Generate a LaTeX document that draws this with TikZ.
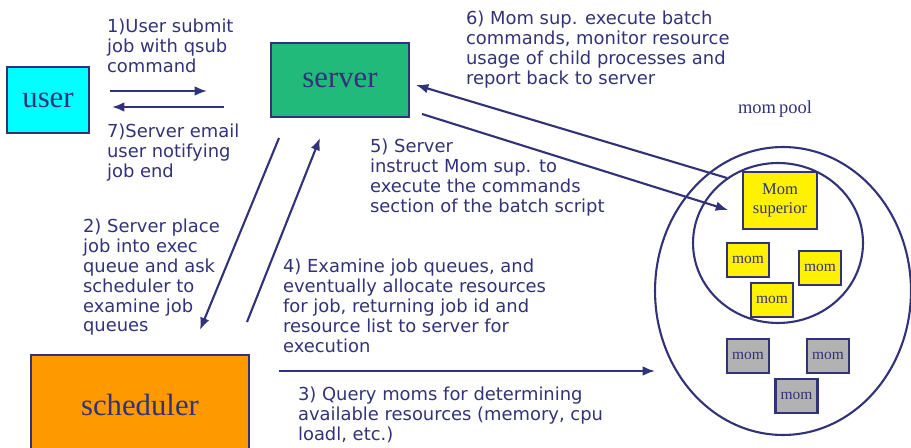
\documentclass[tikz,border=0pt]{standalone}
\usepackage{fontspec}
\setmainfont{Liberation Serif}
\newfontfamily\verd{DejaVu Sans}
\usepackage{tikz}
\usetikzlibrary{arrows.meta}
\usetikzlibrary{shapes.geometric}
\definecolor{ink}{RGB}{50,50,120}
\definecolor{usercyan}{RGB}{0,255,255}
\definecolor{srvgreen}{RGB}{33,186,122}
\definecolor{schorange}{RGB}{255,153,0}
\tikzstyle{box}=[draw=ink,text=ink,inner sep=0pt]
\tikzstyle{mombox}=[box,fill=yellow,minimum width=0.84cm,minimum height=0.68cm,font=\fontsize{8.8}{10}\selectfont]
\tikzstyle{idlebox}=[mombox,fill=black!30]
\tikzstyle{note}=[anchor=north west,inner sep=0pt,align=left,text=ink,font=\verd\fontsize{10.2}{11.3}\selectfont]
\tikzstyle{flow}=[draw=ink,-{Latex[length=7pt,width=5.5pt]}]

\begin{document}
\begin{tikzpicture}[very thick,x=0.02cm,y=-0.02cm]
\clip (0,0) rectangle (911,448);
\node [box,fill=usercyan,minimum width=1.64cm,minimum height=1.32cm,font=\fontsize{17.5}{20}\selectfont] (user) at (48,100) {user};
\node [box,fill=srvgreen,minimum width=2.76cm,minimum height=1.48cm,font=\fontsize{17.5}{20}\selectfont] (server) at (340,80) {server};
\node [box,fill=schorange,minimum width=4.36cm,minimum height=2cm,font=\fontsize{17.5}{20}\selectfont] (sched) at (140,405) {scheduler};

\node [draw=ink,ellipse,minimum width=5.12cm,minimum height=5.76cm,inner sep=0pt] (pool) at (783,291) {};
\node [draw=ink,ellipse,minimum width=3.4cm,minimum height=3.2cm,inner sep=0pt] (busy) at (778,243) {};
\node [text=ink,font=\fontsize{10.5}{12}\selectfont] (poolname) at (775,109) {mom\,pool};

\node [box,fill=yellow,minimum width=1.48cm,minimum height=1.14cm,align=center,font=\fontsize{9.4}{11}\selectfont] (sup) at (780,200.5) {Mom\\superior};
\node [mombox] (m1) at (748,260) {mom};
\node [mombox] (m2) at (820,268) {mom};
\node [mombox] (m3) at (772,300) {mom};
\node [idlebox] (m4) at (748,356) {mom};
\node [idlebox] (m5) at (828,356) {mom};
\node [idlebox] (m6) at (796.5,396) {mom};

\coordinate (s1) at (110,91);  \coordinate (e1) at (207,91);
\coordinate (s7) at (224,107); \coordinate (e7) at (112,107);
\coordinate (s2) at (279,138); \coordinate (e2) at (200,330);
\coordinate (s4) at (247,322); \coordinate (e4) at (320,138);
\coordinate (s3) at (279,371); \coordinate (e3) at (655,371);
\coordinate (s6) at (727,178); \coordinate (e6) at (416,85);
\coordinate (s5) at (422,114); \coordinate (e5) at (728,210);
\draw [flow] (s1) -- (e1);
\draw [flow] (s7) -- (e7);
\draw [flow] (s2) -- (e2);
\draw [flow] (s4) -- (e4);
\draw [flow] (s3) -- (e3);
\draw [flow] (s6) -- (e6);
\draw [flow] (s5) -- (e5);

\node [note] (t1) at (106,18) {1)User submit\\job with qsub\\command};
\node [note] (t7) at (106,123) {7)Server email\\user notifying\\job end};
\node [note] (t2) at (82,218) {2) Server place\\job into exec\\queue and ask\\scheduler to\\examine job\\queues};
\node [note] (t4) at (282,258) {4) Examine job queues, and\\eventually allocate resources\\for job, returning job id and\\resource list to server for\\execution};
\node [note] (t3) at (297,386) {3) Query moms for determining\\available resources (memory, cpu\\loadl, etc.)};
\node [note] (t5) at (369,138) {5) Server\\instruct Mom sup. to\\execute the commands\\section of the batch script};
\node [note] (t6) at (465,10) {6) Mom sup. execute batch\\commands, monitor resource\\usage of child processes and\\report back to server};
\end{tikzpicture}
\end{document}
